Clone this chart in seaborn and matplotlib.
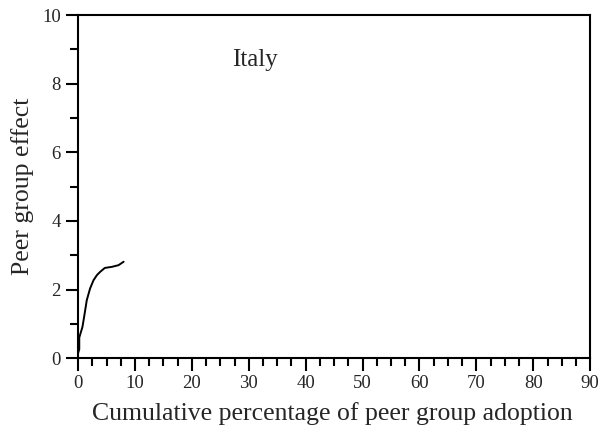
import numpy as np
import pandas as pd
import matplotlib
matplotlib.use("Agg")
import matplotlib.pyplot as plt
import seaborn as sns
from matplotlib.ticker import MultipleLocator

# Data
adoption = [0.0, 0.2, 0.2, 0.76, 1.05, 1.52, 2.1, 2.7, 3.3, 3.9, 4.7, 5.9, 7.1, 8.0]
effect = [0.15, 0.26, 0.6, 0.91, 1.2, 1.69, 2.03, 2.27, 2.42, 2.52, 2.63, 2.66, 2.71, 2.81]
country = "Italy"
xlabel = "Cumulative percentage of peer group adoption"
ylabel = "Peer group effect"

sns.set_theme(style="ticks")
plt.rcParams['font.family'] = ['Liberation Serif', 'DejaVu Serif']

df = pd.DataFrame({"x": adoption, "y": effect})

fig = plt.figure(figsize=(6.01, 4.32), dpi=100)
ax = fig.add_axes([0.130, 0.171, 0.852, 0.794])
sns.lineplot(data=df, x="x", y="y", ax=ax, color="black", linewidth=1.4, sort=False,
             estimator=None)

ax.set_xlim(0, 90)
ax.set_ylim(0, 10)
ax.xaxis.set_major_locator(MultipleLocator(10))
ax.xaxis.set_minor_locator(MultipleLocator(2.5))
ax.yaxis.set_major_locator(MultipleLocator(2))
ax.yaxis.set_minor_locator(MultipleLocator(1))
ax.tick_params(which="major", direction="out", length=9, width=1.5, labelsize=13.5, color="black")
ax.tick_params(which="minor", direction="out", length=6, width=1.5, color="black")
for s in ax.spines.values():
    s.set_linewidth(1.5)
    s.set_color("black")

ax.set_xlabel(xlabel, fontsize=18.5, labelpad=7)
ax.set_ylabel(ylabel, fontsize=18.5, labelpad=6)
ax.xaxis.label.set_x(0.496)
ax.text(31.05, 8.7, country, fontsize=18, ha="center", va="center")

fig.savefig("out.png", dpi=100)
